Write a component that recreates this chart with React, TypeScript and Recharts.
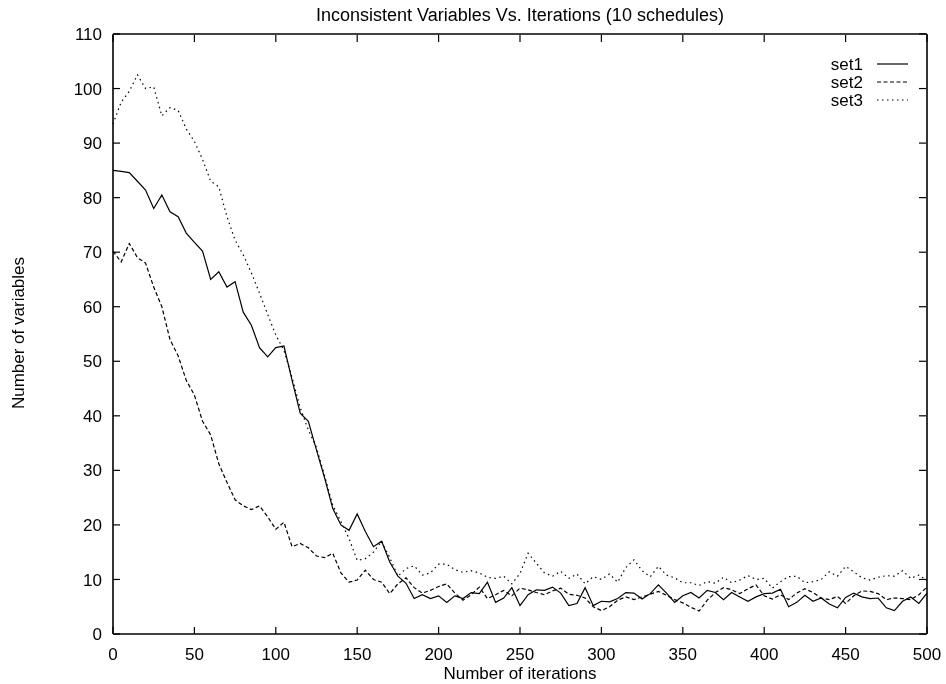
import { LineChart, Line, XAxis, YAxis, Customized } from "recharts";

const iterations = [
  0, 5, 10, 15, 20, 25, 30, 35, 40, 45, 50, 55, 60, 65, 70, 75, 80, 85, 90, 95,
  100, 105, 110, 115, 120, 125, 130, 135, 140, 145, 150, 155, 160, 165, 170, 175, 180, 185, 190, 195,
  200, 205, 210, 215, 220, 225, 230, 235, 240, 245, 250, 255, 260, 265, 270, 275, 280, 285, 290, 295,
  300, 305, 310, 315, 320, 325, 330, 335, 340, 345, 350, 355, 360, 365, 370, 375, 380, 385, 390, 395,
  400, 405, 410, 415, 420, 425, 430, 435, 440, 445, 450, 455, 460, 465, 470, 475, 480, 485, 490, 495,
  500,
];

const set1 = [
  85, 84.8, 84.6, 83, 81.4, 78, 80.5, 77.4, 76.5, 73.5, 71.8, 70.2, 65, 66.4, 63.6, 64.6, 59, 56.6, 52.5, 50.8,
  52.5, 52.8, 46.5, 40.5, 39, 33.7, 28.6, 23, 20, 19, 22, 18.8, 16, 17, 13.2, 10.6, 9.3, 6.5, 7.2, 6.5,
  7, 5.8, 7, 6.5, 7.6, 7.4, 9.5, 5.8, 6.6, 8.5, 5.2, 7.2, 8.1, 8, 8.6, 7.5, 5.2, 5.6, 8.5, 5.2,
  6, 5.9, 6.5, 7.6, 7.5, 6.4, 7.4, 9, 7.5, 5.8, 7, 7.6, 6.6, 8, 7.6, 6.3, 7.6, 6.8, 6, 6.8,
  7.4, 7.5, 8.2, 5, 5.8, 7.1, 6, 6.6, 5.5, 4.8, 6.7, 7.5, 6.8, 6.5, 6.6, 4.8, 4.3, 6, 6.8, 5.6,
  7.5,
];

const set2 = [
  70.2, 68.2, 71.6, 69, 68, 63.6, 60, 54, 51, 46.5, 43.8, 39, 36.5, 31.2, 27.8, 24.6, 23.5, 22.8, 23.5, 21.5,
  19.2, 20.5, 16, 16.6, 15.8, 14.3, 14, 14.8, 11.2, 9.5, 9.9, 11.7, 10, 9.5, 7.4, 9.2, 10.3, 8.5, 7.5, 8,
  8.7, 9.2, 7.5, 6.2, 7.2, 8.6, 6.5, 7.2, 8, 7, 8.4, 8.1, 7.6, 7.2, 7.9, 8.4, 7.3, 7.1, 6.6, 5,
  4.3, 5, 6.2, 6.8, 6.3, 6.8, 7.3, 7.8, 7.1, 6.3, 5.7, 4.9, 4.2, 6.2, 7.6, 8.5, 8.1, 7.4, 8.3, 9,
  7, 6.4, 7.2, 6.3, 7.5, 8.3, 7.6, 6.6, 6.3, 6.9, 5.6, 7, 7.9, 7.8, 7.4, 6.3, 6.6, 6.5, 6.3, 7.2,
  8.6,
];

const set3 = [
  93.5, 97.5, 99.5, 102.5, 100, 100.3, 95, 96.5, 96, 92.6, 90.3, 87, 83, 82, 76.5, 72.2, 69.5, 66.2, 62.5, 58.6,
  54.8, 52, 47, 41.5, 37.4, 34.2, 29, 23.6, 20.6, 17.5, 13.5, 13.8, 15, 17, 14, 10.6, 12, 12.5, 10.8, 11.2,
  12.8, 12.8, 11.8, 11.3, 11.6, 11.2, 10.4, 10.2, 10.6, 9.2, 11.1, 14.8, 13, 11.2, 10.6, 11.5, 10.2, 11, 9.2, 10.5,
  10, 11, 9.5, 12.2, 13.6, 11.6, 10.5, 12.4, 10.8, 10.3, 9.4, 9.4, 8.9, 9.6, 9.3, 10.4, 9.4, 9.9, 10.7, 10,
  10.2, 8.4, 9.6, 10.5, 10.6, 9.4, 9.6, 10, 11.4, 10.6, 12.4, 11.4, 10.3, 9.9, 10.4, 10.7, 10.6, 11.6, 10.2, 10.8,
  9.8,
];

const xTicks = [0, 50, 100, 150, 200, 250, 300, 350, 400, 450, 500];
const yTicks = [0, 10, 20, 30, 40, 50, 60, 70, 80, 90, 100, 110];
const seriesNames = ["set1", "set2", "set3"];

const data = iterations.map((iter, i) => ({
  iter,
  set1: set1[i],
  set2: set2[i],
  set3: set3[i],
}));

const FONT = "'Liberation Sans', Arial, Helvetica, sans-serif";
const TICK = 7;

function BottomTick({ x, y, payload }: any) {
  return (
    <g>
      <line x1={x} x2={x} y1={y - 14} y2={y - 14 - TICK} stroke="#000" strokeWidth={1.2} />
      <text x={x} y={y} dy="0.72em" textAnchor="middle" fontSize={17} fontFamily={FONT} fill="#000">
        {payload.value}
      </text>
    </g>
  );
}

function LeftTick({ x, y, payload }: any) {
  return (
    <g>
      <line x1={x + 11} x2={x + 11 + TICK} y1={y} y2={y} stroke="#000" strokeWidth={1.2} />
      <text x={x} y={y} dy="0.36em" textAnchor="end" fontSize={17} fontFamily={FONT} fill="#000">
        {payload.value}
      </text>
    </g>
  );
}

function TopTick({ x, y }: any) {
  return <line x1={x} x2={x} y1={y + 1} y2={y + 1 + TICK} stroke="#000" strokeWidth={1.2} />;
}

function RightTick({ x, y }: any) {
  return <line x1={x - 1} x2={x - 1 - TICK} y1={y} y2={y} stroke="#000" strokeWidth={1.2} />;
}

const dashes = ["", "4 2.5", "1.5 3.5"];

function Labels() {
  return (
    <g fontFamily={FONT} fill="#000">
      <text x={512} y={21} textAnchor="middle" fontSize={18}>
        Inconsistent Variables Vs. Iterations (10 schedules)
      </text>
      <text x={512} y={679} textAnchor="middle" fontSize={17}>
        Number of iterations
      </text>
      <text x={16} y={333} textAnchor="middle" fontSize={17} transform="rotate(-90 16 333)">
        Number of variables
      </text>
      {seriesNames.map((name, i) => (
        <g key={name}>
          <text x={855} y={70 + i * 18} textAnchor="end" fontSize={17}>
            {name}
          </text>
          <line
            x1={869}
            x2={900}
            y1={64 + i * 18}
            y2={64 + i * 18}
            stroke="#000"
            strokeWidth={1.2}
            strokeDasharray={dashes[i]}
          />
        </g>
      ))}
    </g>
  );
}

export default function App() {
  return (
    <div style={{ position: "fixed", left: 8, top: 0, width: 938, height: 684 }}>
      <LineChart
        width={938}
        height={684}
        data={data}
        margin={{ top: 33, right: 18, bottom: 0, left: 0 }}
      >
        <XAxis
          dataKey="iter"
          type="number"
          domain={[0, 500]}
          ticks={xTicks}
          height={50}
          tickSize={0}
          tickMargin={14}
          tickLine={false}
          tick={BottomTick}
          axisLine={{ stroke: "#000", strokeWidth: 1.6 }}
          interval={0}
        />
        <XAxis
          xAxisId="top"
          orientation="top"
          dataKey="iter"
          type="number"
          domain={[0, 500]}
          ticks={xTicks}
          height={1}
          tickSize={0}
          tickMargin={0}
          tickLine={false}
          tick={TopTick}
          axisLine={{ stroke: "#000", strokeWidth: 1.6 }}
          interval={0}
        />
        <YAxis
          type="number"
          domain={[0, 110]}
          ticks={yTicks}
          width={105}
          tickSize={0}
          tickMargin={11}
          tickLine={false}
          tick={LeftTick}
          axisLine={{ stroke: "#000", strokeWidth: 1.6 }}
          interval={0}
        />
        <YAxis
          yAxisId="right"
          orientation="right"
          type="number"
          domain={[0, 110]}
          ticks={yTicks}
          width={1}
          tickSize={0}
          tickMargin={0}
          tickLine={false}
          tick={RightTick}
          axisLine={{ stroke: "#000", strokeWidth: 1.6 }}
          interval={0}
        />
        <Line dataKey="set1" type="linear" stroke="#000" strokeWidth={1.2} dot={false} isAnimationActive={false} />
        <Line
          dataKey="set2"
          xAxisId="top"
          yAxisId="right"
          type="linear"
          stroke="#000"
          strokeWidth={1.2}
          strokeDasharray={dashes[1]}
          dot={false}
          isAnimationActive={false}
        />
        <Line dataKey="set3" type="linear" stroke="#000" strokeWidth={1.2} strokeDasharray={dashes[2]} dot={false} isAnimationActive={false} />
        <Customized component={Labels} />
      </LineChart>
    </div>
  );
}
